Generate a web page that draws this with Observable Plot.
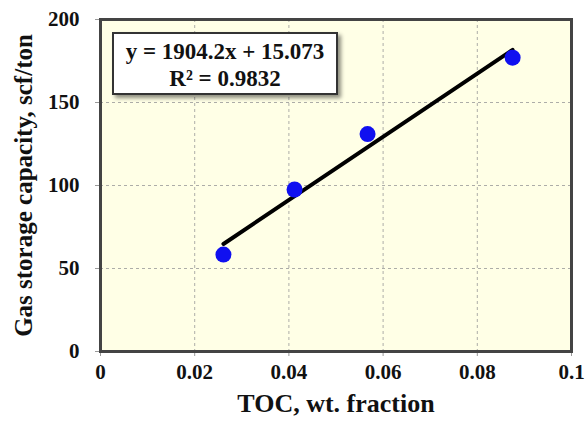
<!DOCTYPE html>
<html><head><meta charset="utf-8">
<script src="https://cdn.jsdelivr.net/npm/d3@7"></script>
<script src="https://cdn.jsdelivr.net/npm/@observablehq/plot@0.6"></script>
<style>
body{margin:0;background:#fff;}
#wrap{position:relative;width:585px;height:422px;}
svg, svg text{font-family:"Liberation Serif","Times New Roman",serif !important;}
#eq{position:absolute;left:112px;top:32px;width:222px;height:55px;background:#fff;border:2px solid #333;box-shadow:3px 3px 4px rgba(0,0,0,0.45);font-family:"Liberation Serif","Times New Roman",serif;font-weight:bold;font-size:23px;color:#111;text-align:center;line-height:27px;padding-top:4px;box-sizing:content-box;white-space:nowrap;}
</style></head>
<body>
<div id="wrap"></div>
<script>
const toc = [0.0261, 0.0412, 0.0567, 0.0875];
const capacity = [58.4, 97.6, 131, 177];
const slope = 1904.2;
const intercept = 15.073;
const r2 = "0.9832";
const xTicks = [0, 0.02, 0.04, 0.06, 0.08, 0.1];
const xTickLabels = ["0", "0.02", "0.04", "0.06", "0.08", "0.1"];
const yTicks = [0, 50, 100, 150, 200];
const xTitle = "TOC, wt. fraction";
const yTitle = "Gas storage capacity, scf/ton";

const pts = toc.map((x, i) => ({x, y: capacity[i]}));
const xr = [d3.min(toc), d3.max(toc)];
const trend = xr.map(x => ({x, y: slope * x + intercept}));

const chart = Plot.plot({
  width: 585, height: 422,
  marginLeft: 100, marginRight: 14, marginTop: 19, marginBottom: 71,
  style: {fontWeight: "bold", color: "#111", background: "transparent"},
  x: {domain: [0, 0.1]},
  y: {domain: [0, 200]},
  marks: [
    Plot.frame({fill: "#FFFFE6", stroke: null}),
    Plot.gridX(xTicks.slice(1, -1), {stroke: "#999", strokeOpacity: 0.8, strokeDasharray: "3,3"}),
    Plot.gridY(yTicks.slice(1, -1), {stroke: "#999", strokeOpacity: 0.8, strokeDasharray: "3,3"}),
    Plot.axisX(xTicks, {tickFormat: (d, i) => xTickLabels[i], tickSize: 5, tickPadding: 8, fontSize: 21, label: null, stroke: "#999"}),
    Plot.axisY(yTicks, {tickSize: 5, tickPadding: 16, fontSize: 21, label: null, stroke: "#999"}),
    Plot.frame({stroke: "#444", strokeWidth: 3}),
    Plot.line(trend, {x: "x", y: "y", stroke: "#000", strokeWidth: 4}),
    Plot.dot(pts, {x: "x", y: "y", r: 8, fill: "#1010F0", stroke: null}),
    Plot.text([xTitle], {frameAnchor: "bottom", dy: 60, fontSize: 26, fontWeight: "bold", fill: "#111"}),
    Plot.text([yTitle], {frameAnchor: "left", textAnchor: "middle", rotate: -90, dx: -77, fontSize: 25, fontWeight: "bold", fill: "#111"})
  ]
});
const wrap = document.getElementById("wrap");
wrap.appendChild(chart);
const eq = document.createElement("div");
eq.id = "eq";
eq.innerHTML = `y = ${slope}x + ${intercept}<br>R² = ${r2}`;
wrap.appendChild(eq);
</script>
</body></html>
